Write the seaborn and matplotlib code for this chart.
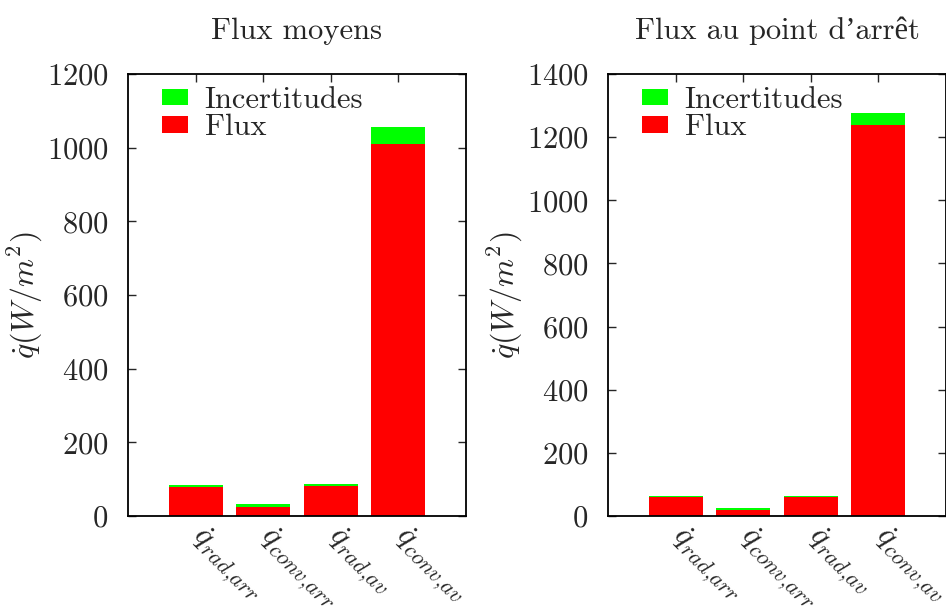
import matplotlib
matplotlib.use("Agg")
import matplotlib.pyplot as plt
import pandas as pd
import seaborn as sns
from matplotlib.patches import Patch

categories = [r"$\dot{q}_{rad{,}arr}$", r"$\dot{q}_{conv{,}arr}$", r"$\dot{q}_{rad{,}av}$", r"$\dot{q}_{conv{,}av}$"]

flux_moyens = [80, 25, 82, 1010]
incert_moyens = [4, 8, 5, 47]

flux_arret = [61, 20, 61, 1238]
incert_arret = [3, 5, 3, 39]

titles = ["Flux moyens", "Flux au point d\u2019arr\u00eat"]
y_max = [1200, 1400]

GREEN = "#00ff00"
RED = "#ff0000"

sns.set_theme(style="white")
plt.rcParams["font.family"] = ["cmr10", "Liberation Serif"]
plt.rcParams["mathtext.fontset"] = "cm"
plt.rcParams["axes.unicode_minus"] = False
plt.rcParams["axes.formatter.use_mathtext"] = True

fig = plt.figure(figsize=(9.46, 6.06), dpi=100)
positions = [[0.1353, 0.1485, 0.3573, 0.7294], [0.6427, 0.1485, 0.3573, 0.7294]]

panels = [(flux_moyens, incert_moyens), (flux_arret, incert_arret)]
for i, (flux, incert) in enumerate(panels):
    ax = fig.add_axes(positions[i])
    df = pd.DataFrame({"cat": categories, "flux": flux,
                       "total": [f + u for f, u in zip(flux, incert)]})
    # green = flux + uncertainty, red flux drawn over it
    sns.barplot(data=df, x="cat", y="total", color=GREEN, saturation=1,
                width=0.8, ax=ax, zorder=3)
    sns.barplot(data=df, x="cat", y="flux", color=RED, saturation=1,
                width=0.8, ax=ax, zorder=3)
    for p in ax.patches:
        p.set_edgecolor("none")
        p.set_linewidth(0)

    ax.set_xlim(-1, 4)
    ax.set_ylim(0, y_max[i])
    ax.set_yticks(range(0, y_max[i] + 1, 200))
    ax.set_xlabel("")
    ax.set_ylabel(r"$\dot{q}(W/m^2)$", fontsize=23, labelpad=1)
    ax.set_title(titles[i], fontsize=22, pad=25)

    for s in ax.spines.values():
        s.set_linewidth(1.3)
        s.set_color("black")
        s.set_zorder(5)
    ax.tick_params(axis="y", direction="in", length=6, width=1, left=True,
                   right=True, labelsize=22, pad=14)
    ax.tick_params(axis="x", direction="in", length=6, width=1, bottom=False,
                   top=True, labelsize=23, pad=12)
    for lbl in ax.get_xticklabels():
        lbl.set_rotation(-45)
        lbl.set_rotation_mode("anchor")
        lbl.set_ha("left")
        lbl.set_va("center")

    handles = [Patch(facecolor=GREEN, edgecolor="none", label="Incertitudes"),
               Patch(facecolor=RED, edgecolor="none", label="Flux")]
    ax.legend(handles=handles, loc="upper left", bbox_to_anchor=(0.1, 0.972),
              frameon=False, fontsize=22, handlelength=0.85, handleheight=0.45,
              handletextpad=0.55, labelspacing=0.0, borderpad=0, borderaxespad=0)

fig.savefig("out.png", dpi=100)
